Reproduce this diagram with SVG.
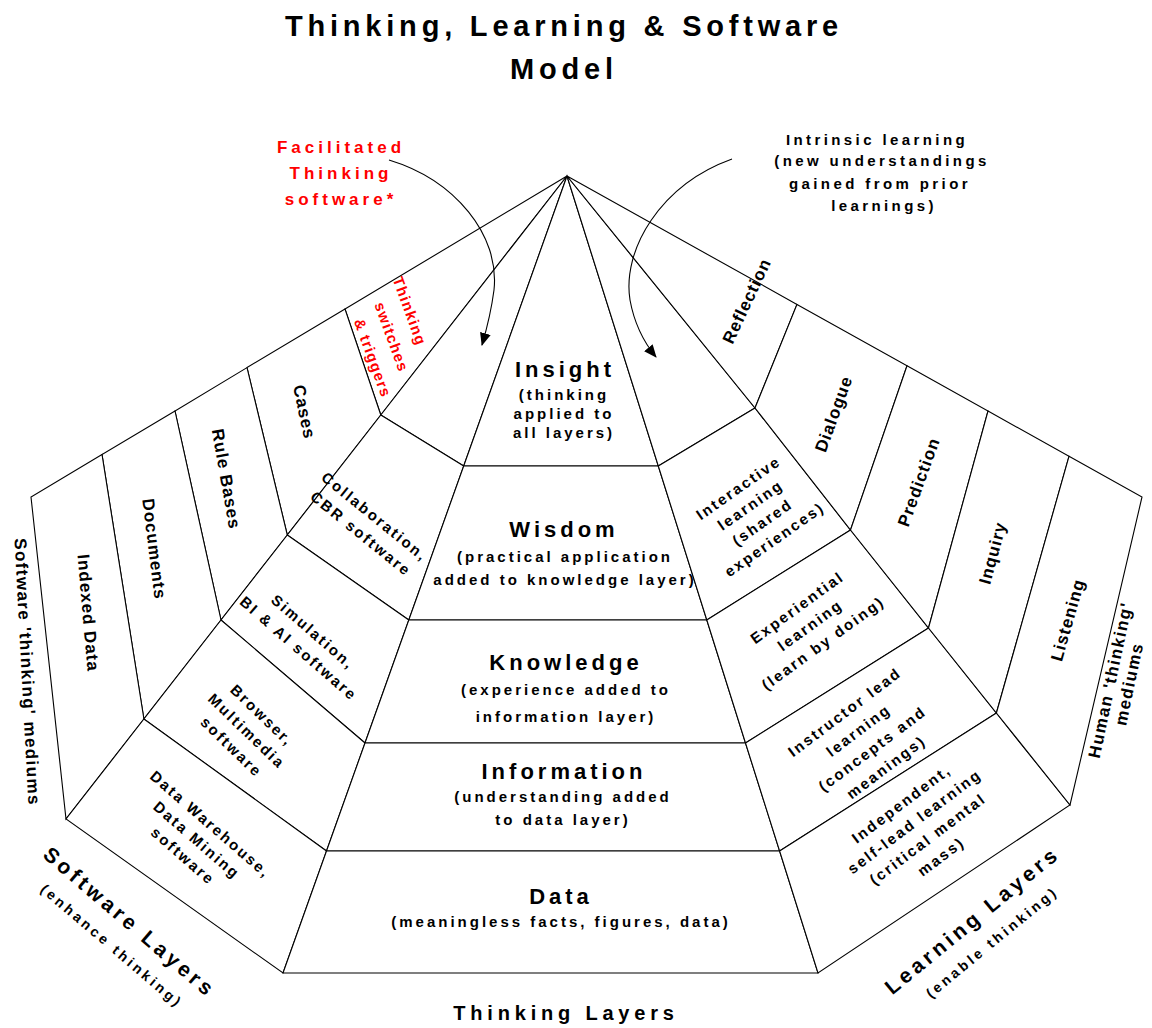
<svg xmlns="http://www.w3.org/2000/svg" width="1152" height="1028" viewBox="0 0 1152 1028">
<defs>
<marker id="ah" markerWidth="13" markerHeight="12" refX="12" refY="6" orient="auto" markerUnits="userSpaceOnUse"><path d="M0,0.5 L13,6 L0,11.5 z" fill="#000"/></marker>
<style>
.c{fill:#fff;stroke:#000;stroke-width:1.1;stroke-linejoin:miter}
.cn{fill:none;stroke:#000;stroke-width:1.1}
text{font-family:"Liberation Sans",Arial,Helvetica,sans-serif;font-weight:bold;fill:#000}
.ti{font-size:29px;letter-spacing:4.8px;text-anchor:middle}
.hd{font-size:22px;letter-spacing:4px;text-anchor:middle}
.sb{font-size:15px;letter-spacing:3px;text-anchor:middle}
.ol{font-size:17px;letter-spacing:1px;text-anchor:middle;dominant-baseline:central}
.il{font-size:15px;letter-spacing:2.2px;text-anchor:middle;dominant-baseline:central}
.md{font-size:17px;letter-spacing:1.4px;text-anchor:middle;dominant-baseline:central}
.ly{font-size:21px;letter-spacing:3.8px;text-anchor:middle;dominant-baseline:central}
.lys{font-size:14px;letter-spacing:3.2px;text-anchor:middle;dominant-baseline:central}
.nt{font-size:17px;letter-spacing:4px;text-anchor:middle;fill:#f00}
.in{font-size:15px;letter-spacing:3.4px;text-anchor:middle}
.rd{fill:#f00}
</style>
</defs>
<rect width="1152" height="1028" fill="#fff"/>

<g id="title">
<text class="ti" x="564" y="36">Thinking, Learning &amp; Software</text>
<text class="ti" x="564" y="79">Model</text>
</g>

<g id="note-facilitated">
<text class="nt" x="341" y="153">Facilitated</text>
<text class="nt" x="341" y="179">Thinking</text>
<text class="nt" x="341" y="205">software*</text>
</g>

<g id="note-intrinsic">
<text class="in" x="877" y="145">Intrinsic learning</text>
<text class="in" x="882" y="166">(new understandings</text>
<text class="in" x="880" y="189">gained from prior</text>
<text class="in" x="884" y="211">learnings)</text>
</g>

<!-- Software 'thinking' mediums (outer left ring) -->
<g id="med-switches">
<polygon class="c" points="567,176 345,309 380.8,415"/>
<text class="ol rd" style="font-size:15px;letter-spacing:1.2px" transform="translate(410,311) rotate(70)">Thinking</text>
<text class="ol rd" style="font-size:15px;letter-spacing:1.2px" transform="translate(392,337) rotate(70)">switches</text>
<text class="ol rd" style="font-size:15px;letter-spacing:1.2px" transform="translate(373,358) rotate(70)">&amp; triggers</text>
</g>
<g id="med-cases">
<polygon class="c" points="345,309 247,367.6 287.3,535 380.8,415"/>
<text class="ol" transform="translate(304,412) rotate(78)">Cases</text>
</g>
<g id="med-rules">
<polygon class="c" points="247,367.6 175,411 221,620 287.3,535"/>
<text class="ol" transform="translate(226,479) rotate(80)">Rule Bases</text>
</g>
<g id="med-documents">
<polygon class="c" points="175,411 102,454.5 143.9,719 221,620"/>
<text class="ol" transform="translate(154,549) rotate(83)">Documents</text>
</g>
<g id="med-indexed">
<polygon class="c" points="102,454.5 31,497 66,819 143.9,719"/>
<text class="ol" transform="translate(88,613) rotate(85)">Indexed Data</text>
</g>

<!-- Software layers (inner left ring) -->
<g id="sw-top">
<polygon class="c" points="567,176 380.8,415 463.7,466"/>
</g>
<g id="sw-collab">
<polygon class="c" points="380.8,415 287.3,535 408.8,620 463.7,466"/>
<g transform="translate(368,525) rotate(39)">
<text class="il" x="0" y="-11">Collaboration,</text>
<text class="il" x="0" y="11">CBR software</text>
</g>
</g>
<g id="sw-sim">
<polygon class="c" points="287.3,535 221,620 365,743 408.8,620"/>
<g transform="translate(306,640) rotate(41)">
<text class="il" x="0" y="-11">Simulation,</text>
<text class="il" x="0" y="11">BI &amp; AI software</text>
</g>
</g>
<g id="sw-browser">
<polygon class="c" points="221,620 143.9,719 326.5,851 365,743"/>
<g transform="translate(247,731) rotate(44)">
<text class="il" x="0" y="-22">Browser,</text>
<text class="il" x="0" y="0">Multimedia</text>
<text class="il" x="0" y="22">software</text>
</g>
</g>
<g id="sw-dw">
<polygon class="c" points="143.9,719 66,819 283,973 326.5,851"/>
<g transform="translate(197,840) rotate(41)">
<text class="il" x="0" y="-21">Data Warehouse,</text>
<text class="il" x="0" y="0">Data Mining</text>
<text class="il" x="0" y="21">software</text>
</g>
</g>

<!-- Thinking layers (pyramid) -->
<g id="insight">
<polygon class="c" points="567,176 463.7,466 658.3,466"/>
<text class="hd" x="565" y="377">Insight</text>
<text class="sb" x="564" y="400">(thinking</text>
<text class="sb" x="564" y="419">applied to</text>
<text class="sb" x="564" y="438">all layers)</text>
</g>
<g id="wisdom">
<polygon class="c" points="463.7,466 658.3,466 706.8,620 408.8,620"/>
<text class="hd" x="564" y="537">Wisdom</text>
<text class="sb" x="565" y="562">(practical application</text>
<text class="sb" x="565" y="585">added to knowledge layer)</text>
</g>
<g id="knowledge">
<polygon class="c" points="408.8,620 706.8,620 745.5,743 365,743"/>
<text class="hd" x="566" y="670">Knowledge</text>
<text class="sb" x="566" y="695">(experience added to</text>
<text class="sb" x="566" y="722">information layer)</text>
</g>
<g id="information">
<polygon class="c" points="365,743 745.5,743 779.6,851 326.5,851"/>
<text class="hd" x="564" y="779">Information</text>
<text class="sb" x="563" y="802">(understanding added</text>
<text class="sb" x="563" y="825">to data layer)</text>
</g>
<g id="data">
<polygon class="c" points="326.5,851 779.6,851 818,973 283,973"/>
<text class="hd" x="561" y="904">Data</text>
<text class="sb" x="561" y="927">(meaningless facts, figures, data)</text>
</g>

<!-- Learning layers (inner right ring) -->
<g id="ln-top">
<polygon class="c" points="567,176 658.3,466 755,408"/>
</g>
<g id="ln-interactive">
<polygon class="c" points="658.3,466 755,408 850.5,530 706.8,620"/>
<g transform="translate(756,513) rotate(-35)">
<text class="il" x="0" y="-31">Interactive</text>
<text class="il" x="0" y="-10">learning</text>
<text class="il" x="0" y="11">(shared</text>
<text class="il" x="0" y="32">experiences)</text>
</g>
</g>
<g id="ln-experiential">
<polygon class="c" points="706.8,620 850.5,530 928.5,628 745.5,743"/>
<g transform="translate(810,625) rotate(-36)">
<text class="il" x="0" y="-22">Experiential</text>
<text class="il" x="0" y="0">learning</text>
<text class="il" x="0" y="22">(learn by doing)</text>
</g>
</g>
<g id="ln-instructor">
<polygon class="c" points="745.5,743 928.5,628 996.4,713 779.6,851"/>
<g transform="translate(865,739) rotate(-37)">
<text class="il" x="0" y="-34">Instructor lead</text>
<text class="il" x="0" y="-11">learning</text>
<text class="il" x="0" y="12">(concepts and</text>
<text class="il" x="0" y="35">meanings)</text>
</g>
</g>
<g id="ln-independent">
<polygon class="c" points="779.6,851 996.4,713 1070,805 818,973"/>
<g transform="translate(921,830) rotate(-37)">
<text class="il" x="0" y="-33">Independent,</text>
<text class="il" x="0" y="-11">self-lead learning</text>
<text class="il" x="0" y="11">(critical mental</text>
<text class="il" x="0" y="33">mass)</text>
</g>
</g>

<!-- Human 'thinking' mediums (outer right ring) -->
<g id="hm-reflection">
<polygon class="c" points="567,176 797,304.4 755,408"/>
<text class="ol" transform="translate(747,301) rotate(-65)">Reflection</text>
</g>
<g id="hm-dialogue">
<polygon class="c" points="797,304.4 907,365.8 850.5,530 755,408"/>
<text class="ol" transform="translate(834,414) rotate(-70)">Dialogue</text>
</g>
<g id="hm-prediction">
<polygon class="c" points="907,365.8 988,411 928.5,628 850.5,530"/>
<text class="ol" transform="translate(919,482) rotate(-70)">Prediction</text>
</g>
<g id="hm-inquiry">
<polygon class="c" points="988,411 1069,456.3 996.4,713 928.5,628"/>
<text class="ol" transform="translate(993,553) rotate(-75)">Inquiry</text>
</g>
<g id="hm-listening">
<polygon class="c" points="1069,456.3 1142,497 1070,805 996.4,713"/>
<text class="ol" transform="translate(1068,620) rotate(-74)">Listening</text>
</g>

<!-- Axis labels -->
<g id="label-software-mediums">
<text class="md" transform="translate(27,672) rotate(87)">Software 'thinking' mediums</text>
</g>
<g id="label-human-mediums">
<g transform="translate(1120,682) rotate(-78)">
<text class="md" x="0" y="-9.5">Human 'thinking'</text>
<text class="md" x="0" y="9.5">mediums</text>
</g>
</g>
<g id="label-software-layers">
<text class="ly" transform="translate(130,922) rotate(40.5)">Software Layers</text>
<text class="lys" transform="translate(112,946) rotate(40.5)">(enhance thinking)</text>
</g>
<g id="label-learning-layers">
<text class="ly" transform="translate(972,920) rotate(-39.5)">Learning Layers</text>
<text class="lys" transform="translate(992,942) rotate(-39.5)">(enable thinking)</text>
</g>
<g id="label-thinking-layers">
<text class="ly" style="font-size:20px;letter-spacing:4.8px;dominant-baseline:auto" x="566" y="1020">Thinking Layers</text>
</g>

<g id="connectors">
<path class="cn" d="M389,160 C455,180 500,235 494,290 C491,313 487,328 482,345" marker-end="url(#ah)"/>
<path class="cn" d="M732,159 C660,185 622,250 630,300 C634,322 642,340 656,357" marker-end="url(#ah)"/>
</g>
</svg>
